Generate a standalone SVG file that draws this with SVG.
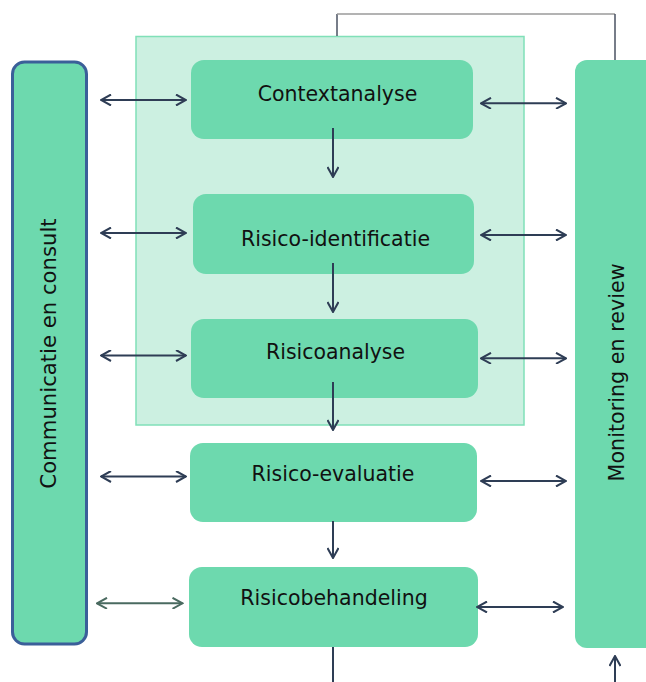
<svg xmlns="http://www.w3.org/2000/svg" width="646" height="682" viewBox="0 0 646 682">
  <style>
    .node { fill: #6dd9ae; }
    .lbl { font-family: "DejaVu Sans", Verdana, sans-serif; font-size: 20.5px; fill: #111; text-anchor: middle; }
    .conn { fill: none; stroke: #2e3d55; stroke-width: 2; }
    .conn-g { fill: none; stroke: #4a6a60; stroke-width: 2; }
  </style>
  <defs>
    <marker id="ah" viewBox="0 0 12 12" refX="11" refY="6" markerWidth="12" markerHeight="12" markerUnits="userSpaceOnUse" orient="auto-start-reverse">
      <path d="M1,0.5 L11,6 L1,11.5" fill="none" stroke="#2e3d55" stroke-width="2"/>
    </marker>
    <marker id="ahg" viewBox="0 0 12 12" refX="11" refY="6" markerWidth="12" markerHeight="12" markerUnits="userSpaceOnUse" orient="auto-start-reverse">
      <path d="M1,0.5 L11,6 L1,11.5" fill="none" stroke="#4a6a60" stroke-width="2"/>
    </marker>
  </defs>

  <rect width="646" height="682" fill="#ffffff"/>

  <g id="kader">
    <rect x="136" y="36.5" width="388" height="388.5" fill="#ccf0e1" stroke="#80e0b8" stroke-width="1.5"/>
  </g>

  <g id="communicatie">
    <rect x="12.5" y="62" width="74" height="582" rx="12" class="node" stroke="#3b5f99" stroke-width="3"/>
    <text class="lbl" font-size="21.2" style="font-size:21.2px" transform="translate(55.5,353.5) rotate(-90)">Communicatie en consult</text>
  </g>

  <g id="monitoring">
    <rect x="575" y="60" width="100" height="588" rx="12" class="node"/>
    <text class="lbl" style="font-size:20.7px" transform="translate(624,372.4) rotate(-90)">Monitoring en review</text>
  </g>

  <g id="contextanalyse">
    <rect x="191" y="60" width="282" height="79" rx="13" class="node"/>
    <text class="lbl" x="337.5" y="101">Contextanalyse</text>
  </g>

  <g id="risico-identificatie">
    <rect x="193" y="194" width="281" height="80" rx="13" class="node"/>
    <text class="lbl" x="335.5" y="245.7">Risico-identificatie</text>
  </g>

  <g id="risicoanalyse">
    <rect x="191" y="319" width="287" height="79" rx="13" class="node"/>
    <text class="lbl" x="335.5" y="358.7" textLength="139" lengthAdjust="spacingAndGlyphs">Risicoanalyse</text>
  </g>

  <g id="risico-evaluatie">
    <rect x="190" y="443" width="287" height="79" rx="13" class="node"/>
    <text class="lbl" x="333" y="480.7">Risico-evaluatie</text>
  </g>

  <g id="risicobehandeling">
    <rect x="189" y="567" width="289" height="80" rx="13" class="node"/>
    <text class="lbl" x="334" y="605.3">Risicobehandeling</text>
  </g>

  <g id="connectors">
    <!-- feedback loop at top -->
    <path d="M337,36 V14" fill="none" stroke="#4a5262" stroke-width="1.5"/>
    <path d="M337,14 H615" fill="none" stroke="#9a9a9a" stroke-width="1.5"/>
    <path d="M615,14 V60" fill="none" stroke="#4a5262" stroke-width="1.5"/>

    <!-- vertical flow -->
    <path class="conn" d="M333,128 V177" marker-end="url(#ah)"/>
    <path class="conn" d="M333,263 V312" marker-end="url(#ah)"/>
    <path class="conn" d="M333,382 V430" marker-end="url(#ah)"/>
    <path class="conn" d="M333,521 V558" marker-end="url(#ah)"/>
    <path class="conn" d="M333,647 V682"/>
    <path class="conn" d="M615,682 V656" marker-end="url(#ah)"/>

    <!-- left double arrows -->
    <path class="conn" d="M101,100 H186" marker-start="url(#ah)" marker-end="url(#ah)"/>
    <path class="conn" d="M101,233 H186" marker-start="url(#ah)" marker-end="url(#ah)"/>
    <path class="conn" d="M101,355.5 H186" marker-start="url(#ah)" marker-end="url(#ah)"/>
    <path class="conn" d="M101,476.5 H186" marker-start="url(#ah)" marker-end="url(#ah)"/>
    <path class="conn-g" d="M97,603.3 H182.5" marker-start="url(#ahg)" marker-end="url(#ahg)"/>

    <!-- right double arrows -->
    <path class="conn" d="M481,103.3 H566" marker-start="url(#ah)" marker-end="url(#ah)"/>
    <path class="conn" d="M481,235 H566" marker-start="url(#ah)" marker-end="url(#ah)"/>
    <path class="conn" d="M481,358.3 H566" marker-start="url(#ah)" marker-end="url(#ah)"/>
    <path class="conn" d="M481,481 H566" marker-start="url(#ah)" marker-end="url(#ah)"/>
    <path class="conn" d="M477,607 H563" marker-start="url(#ah)" marker-end="url(#ah)"/>
  </g>
</svg>
